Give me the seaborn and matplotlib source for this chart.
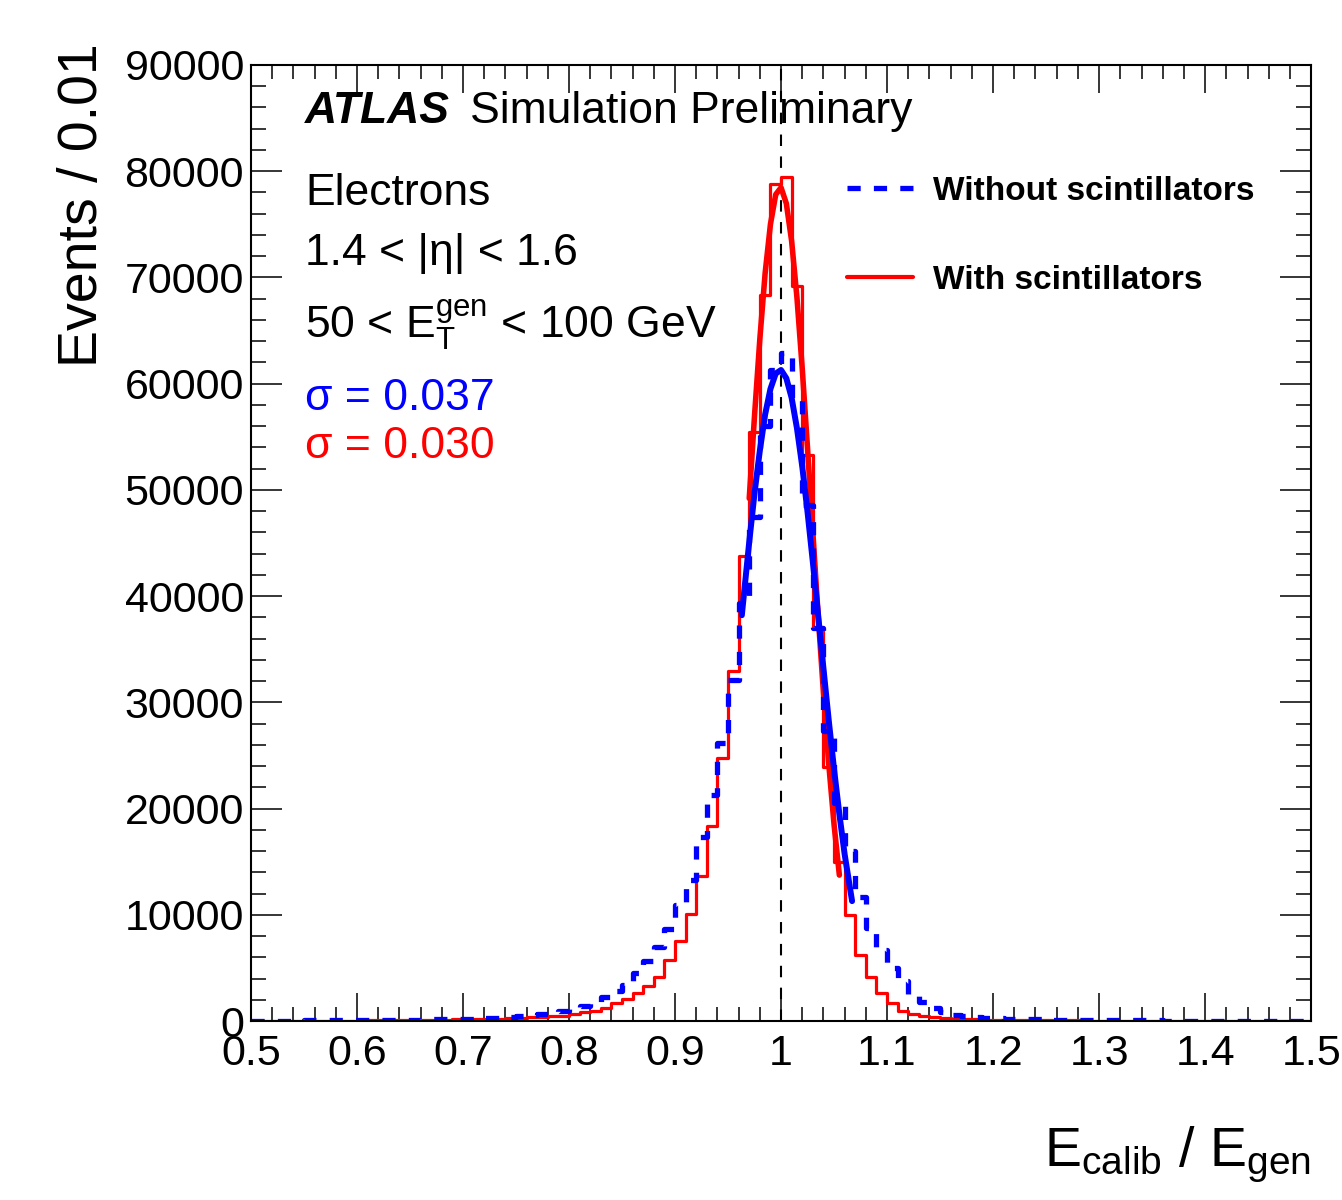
import numpy as np
import pandas as pd
import matplotlib
matplotlib.use("Agg")
import matplotlib.pyplot as plt
from matplotlib.lines import Line2D
from matplotlib.ticker import MultipleLocator, FuncFormatter
import seaborn as sns

# binning of E_calib / E_gen
binLow = 0.5
binHigh = 1.5
binWidth = 0.01

# events per bin (100 bins from 0.50 to 1.50)
withScint = [
    30, 30, 35, 35, 40, 45, 50, 55, 60, 65,
    70, 75, 85, 90, 100, 110, 120, 135, 150, 165,
    180, 200, 220, 250, 280, 310, 350, 400, 450, 520,
    650, 850, 940, 1220, 1700, 2070, 2640, 3300, 4140, 5740,
    7530, 10070, 13650, 18360, 24760, 32950, 43800, 55450, 68350, 78800,
    79450, 69200, 53300, 37100, 23900, 15000, 9980, 6210, 4140, 2640,
    1700, 940, 660, 470, 380, 300, 240, 200, 170, 150,
    130, 120, 110, 100, 90, 85, 80, 75, 70, 65,
    60, 55, 50, 50, 45, 45, 40, 40, 35, 35,
    30, 30, 30, 25, 25, 25, 20, 20, 20, 20,
]
withoutScint = [
    50, 55, 60, 60, 65, 70, 75, 80, 85, 90,
    100, 105, 115, 125, 135, 150, 165, 180, 200, 220,
    240, 270, 300, 340, 380, 450, 550, 680, 820, 1000,
    1150, 1450, 1750, 2250, 2800, 3400, 4520, 5650, 6970, 8660,
    10900, 13300, 17300, 21300, 26200, 32100, 39400, 47400, 56000, 61300,
    62900, 58500, 48600, 37000, 27300, 20500, 16000, 11700, 8800, 6700,
    5000, 3800, 2600, 1800, 1200, 850, 600, 450, 350, 300,
    260, 230, 200, 180, 160, 145, 130, 120, 110, 100,
    95, 90, 85, 80, 75, 70, 65, 62, 60, 58,
    55, 52, 50, 48, 46, 44, 42, 40, 38, 36,
]

# gaussian fit curves
fitWithX = [0.970, 0.975, 0.980, 0.985, 0.990, 0.995, 1.000, 1.005, 1.010,
            1.015, 1.020, 1.025, 1.030, 1.035, 1.040, 1.045, 1.050, 1.055]
fitWithY = [49200, 57000, 64200, 70400, 75000, 77800, 78450, 76950, 73400,
            68100, 61400, 53900, 46000, 38200, 30900, 24200, 18500, 13750]
fitWithoutX = [0.963, 0.970, 0.975, 0.980, 0.985, 0.990, 0.995, 1.000, 1.005, 1.010,
               1.015, 1.020, 1.025, 1.030, 1.035, 1.040, 1.045, 1.050, 1.055, 1.060, 1.067]
fitWithoutY = [38200, 45100, 49700, 53700, 57100, 59500, 60950, 61280, 60500, 58650,
               55800, 52200, 47900, 43200, 38200, 33200, 28300, 23700, 19500, 15700, 11300]

legendLabels = ["Without scintillators", "With scintillators"]
sigmaWithout = "0.037"
sigmaWith = "0.030"

sns.set_style("ticks")
plt.rcParams['font.family'] = ['Liberation Sans', 'DejaVu Sans']
plt.rcParams['mathtext.fontset'] = 'custom'
plt.rcParams['mathtext.rm'] = 'Liberation Sans'
plt.rcParams['mathtext.it'] = 'Liberation Sans:italic'
plt.rcParams['mathtext.bf'] = 'Liberation Sans:bold'
plt.rcParams['text.color'] = 'black'
plt.rcParams['axes.labelcolor'] = 'black'
plt.rcParams['xtick.color'] = 'black'
plt.rcParams['ytick.color'] = 'black'

nBins = len(withScint)
centers = binLow + binWidth * (np.arange(nBins) + 0.5)
hist = pd.DataFrame({"ratio": centers, "with": withScint, "without": withoutScint})

fig = plt.figure(figsize=(13.42, 12), dpi=100)
ax = fig.add_axes([0.187, 0.149, 0.79, 0.797])

blue = '#0000ff'
red = '#ff0000'

sns.histplot(data=hist, x="ratio", weights="with", binwidth=binWidth, binrange=(binLow, binHigh),
             element='step', fill=False, color=red, linewidth=2.3, ax=ax)
sns.lineplot(x=fitWithX, y=fitWithY, color=red, linewidth=4, estimator=None, sort=False, ax=ax)
sns.histplot(data=hist, x="ratio", weights="without", binwidth=binWidth, binrange=(binLow, binHigh),
             element='step', fill=False, color=blue, linewidth=3.8, dashes=(2.5, 2.5), ax=ax)
sns.lineplot(x=fitWithoutX, y=fitWithoutY, color=blue, linewidth=4.3, estimator=None, sort=False, ax=ax)

ax.axvline(1.0, color='black', linewidth=1.5, dashes=(5.5, 5), zorder=1)

ax.set_xlim(binLow, binHigh)
ax.set_ylim(0, 90000)
ax.xaxis.set_major_locator(MultipleLocator(0.1))
ax.xaxis.set_minor_locator(MultipleLocator(0.02))
ax.yaxis.set_major_locator(MultipleLocator(10000))
ax.yaxis.set_minor_locator(MultipleLocator(2000))
ax.xaxis.set_major_formatter(FuncFormatter(lambda v, p: "%g" % round(v, 2)))
ax.yaxis.set_major_formatter(FuncFormatter(lambda v, p: "%d" % v))

for s in ax.spines.values():
    s.set_visible(True)
    s.set_linewidth(1.5)
    s.set_color('black')
ax.tick_params(which='both', direction='in', top=True, right=True, color='black', width=1.1)
ax.tick_params(axis='x', which='major', length=20, labelsize=31, pad=9)
ax.tick_params(axis='x', which='minor', length=10)
ax.tick_params(axis='y', which='major', length=22, labelsize=31, pad=5)
ax.tick_params(axis='y', which='minor', length=11)

ax.set_xlabel(r'$\mathregular{E_{calib}\ /\ E_{gen}}$', fontsize=40, loc='right')
ax.xaxis.set_label_coords(1.0, -0.108)
ax.set_ylabel('Events / 0.01', fontsize=40, loc='top')
ax.yaxis.set_label_coords(-0.134, 1.023)

tr = ax.transAxes
ax.text(0.051, 0.939, 'ATLAS', fontsize=32, fontweight='bold', fontstyle='italic',
        va='baseline', transform=tr)
ax.text(0.2066, 0.939, 'Simulation Preliminary', fontsize=32, va='baseline', transform=tr)
ax.text(0.051, 0.8536, 'Electrons', fontsize=32, va='baseline', transform=tr)
ax.text(0.051, 0.7908, '1.4 < |η| < 1.6', fontsize=32, va='baseline', transform=tr)
ax.text(0.051, 0.7144, r'50 < $\mathregular{E_{T}^{gen}}$ < 100 GeV', fontsize=32, va='baseline', transform=tr)
ax.text(0.051, 0.639, 'σ = ' + sigmaWithout, fontsize=32, color=blue, va='baseline', transform=tr)
ax.text(0.051, 0.589, 'σ = ' + sigmaWith, fontsize=32, color=red, va='baseline', transform=tr)

handles = [Line2D([], [], color=blue, linewidth=3.8, dashes=(2.5, 2.5)),
           Line2D([], [], color=red, linewidth=3)]
ax.legend(handles, legendLabels, loc='upper left', bbox_to_anchor=(0.562, 0.884), frameon=False,
          prop={'weight': 'bold', 'size': 24}, handlelength=2.0, handletextpad=0.6,
          labelspacing=1.75, borderpad=0, borderaxespad=0)

fig.savefig('out.png', dpi=100)
